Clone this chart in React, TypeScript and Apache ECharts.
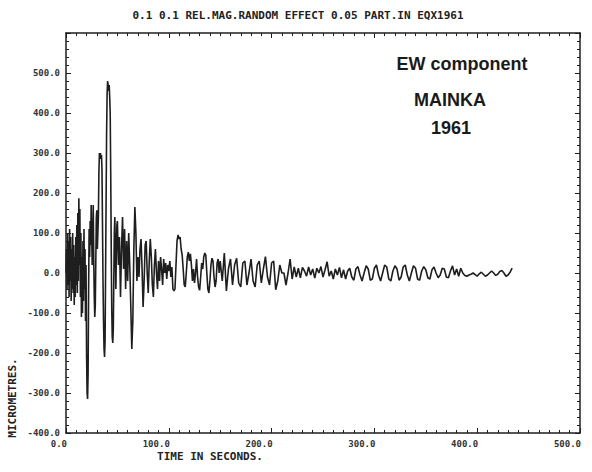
import { useEffect, useRef } from "react";
import * as echarts from "echarts";

// Plot texts
const titleText = "0.1 0.1 REL.MAG.RANDOM EFFECT 0.05 PART.IN EQX1961";
const xTitle = "TIME IN SECONDS.";
const yTitle = "MICROMETRES.";
const annotationLines = ["EW component", "MAINKA", "1961"];

// Axis ranges (seconds, micrometres); the top of the frame carries no label
const xMin = 0;
const xMax = 500;
const xStep = 100;
const yMin = -400;
const yMax = 600;
const yStep = 100;
const yLastLabelled = 500;

// Ground displacement, digitised in three runs with different sample spacing.
// Run A: 0 – 49.5 s, one sample every 0.5 s
const runAStart = 0;
const runAStep = 0.5;
const runA = [
  0, 60, -40, 100, -30, 80, -60, 110, -20, 90,
  -70, 60, -40, 100, -50, 70, -80, 40, -60, 90,
  -30, 120, -50, 150, -20, 187, 20, 160, -60, 100,
  -110, 40, -100, 80, -70, 110, -40, 60, -120, 20,
  -200, -300, -315, -250, -40, 110, 40, 130, 70, 170,
  90, 20, 60, 170, 30, -60, -110, -80, 30, 140,
  157, 60, 100, 140, 250, 300, 290, 300, 285, 295,
  260, 120, -20, -120, -190, -210, -170, 0, 180, 350,
  450, 480, 470, 455, 470, 440, 400, 250, 60, -90,
  -160, -175, -140, -20, 100, 140, 60, -40, 50, 120,
];

// Run B: 50 – 149 s, one sample every second
const runBStart = 50;
const runBStep = 1;
const runB = [
  130, 20, 90, -60, 60, 140, 10, 110, -40, 80,
  -20, 100, 20, -80, -190, -120, 60, 165, 100, -20,
  40, -10, 60, 85, 10, -85, -20, 70, 80, 0,
  -50, 30, 85, 40, -30, -60, 20, 60, 0, -40,
  30, -20, 40, 10, -30, 35, 0, 25, -15, 20,
  5, 30, -10, 15, -40, -45, -40, 20, 80, 95,
  85, 90, 60, 45, 10, -30, -35, 0, 40, 52,
  30, 48, 20, -20, 10, -25, 0, 35, -10, -35,
  -43, -10, 25, 10, 40, 50, 45, 0, -40, -50,
  -20, 20, 37, 30, -10, -35, -20, 25, 35, 0,
];

// Run C: 150 – 434 s, one sample every 2 s
const runCStart = 150;
const runCStep = 2;
const runC = [
  30, -20, 50, -45, 10, 35, -30, 20, 37, -25,
  -35, 25, 30, -30, 0, 35, -20, -35, 20, 30,
  -25, 10, 41, -10, -30, 25, 30, -42, -20, 20,
  0, 0, -30, 0, 35, -15, 15, -10, 12, -12,
  14, 5, -8, 15, -5, 10, -13, 12, 0, 16,
  -10, 8, 28, -8, 5, -15, 10, -5, 14, -12,
  8, -15, 5, 12, -10, -18, 10, 16, -5, -20,
  0, 18, 10, -18, -15, 12, 20, -5, -20, 0,
  20, 15, -15, -20, 5, 18, 10, -18, -10, 15,
  20, -5, -20, 0, 18, 12, -15, -18, 5, 16,
  8, -12, -15, 8, 15, 0, -12, -5, 12, 10,
  -10, -12, 5, 18, -5, 10, -8, 12, 0, -6,
  -8, -5, -3, 0, -4, -8, -2, 2, -3, -8,
  -5, 0, 5, 0, -6, -3, 4, 6, 0, -8,
  -5, 2, 12,
];

const toPairs = (start: number, step: number, values: number[]) =>
  values.map((v, i) => [start + i * step, v]);

const ink = "#1e1e1e";
const labelFont = "DejaVu Sans Mono";

export default function App() {
  const ref = useRef<HTMLDivElement>(null);

  useEffect(() => {
    if (!ref.current) return;
    const chart = echarts.init(ref.current, undefined, { renderer: "svg" });

    const trace = [
      ...toPairs(runAStart, runAStep, runA),
      ...toPairs(runBStart, runBStep, runB),
      ...toPairs(runCStart, runCStep, runC),
    ];

    const tickLabel = {
      fontFamily: labelFont,
      fontSize: 9,
      fontWeight: "bold" as const,
      color: "#333",
    };

    const baseX = {
      type: "value" as const,
      min: xMin,
      max: xMax,
      interval: xStep,
      axisLine: { show: true, onZero: false, lineStyle: { color: ink, width: 1.5 } },
      axisTick: { show: true, inside: true, length: 5, lineStyle: { color: ink, width: 1 } },
      minorTick: { show: true, splitNumber: 10, length: 3, lineStyle: { color: ink, width: 1 } },
      splitLine: { show: false },
    };
    const baseY = {
      type: "value" as const,
      min: yMin,
      max: yMax,
      interval: yStep,
      axisLine: { show: true, onZero: false, lineStyle: { color: ink, width: 1.5 } },
      axisTick: { show: true, inside: true, length: 5, lineStyle: { color: ink, width: 1 } },
      minorTick: { show: true, splitNumber: 5, length: 3, lineStyle: { color: ink, width: 1 } },
      splitLine: { show: false },
    };

    chart.setOption({
      animation: false,
      backgroundColor: "#ffffff",
      grid: { left: 66, right: 12, top: 33, bottom: 39, containLabel: false },
      xAxis: [
        {
          ...baseX,
          position: "bottom",
          axisLabel: {
            ...tickLabel,
            margin: 6,
            align: "right",
            padding: [0, -1, 0, 0],
            formatter: (v: number) => v.toFixed(1),
          },
        },
        { ...baseX, position: "top", axisLabel: { show: false } },
      ],
      yAxis: [
        {
          ...baseY,
          position: "left",
          axisLabel: {
            ...tickLabel,
            margin: 6,
            formatter: (v: number) => (v > yLastLabelled ? "" : v.toFixed(1)),
          },
        },
        { ...baseY, position: "right", axisLabel: { show: false } },
      ],
      series: [
        {
          type: "line",
          data: trace,
          showSymbol: false,
          symbol: "none",
          lineStyle: { color: ink, width: 1.6 },
          silent: true,
        },
      ],
      graphic: [
        {
          type: "text",
          x: 298,
          y: 15,
          style: {
            text: titleText,
            align: "center",
            verticalAlign: "middle",
            fontFamily: labelFont,
            fontSize: 11,
            fontWeight: "bold",
            fill: "#222",
          },
        },
        {
          type: "text",
          x: 210,
          y: 456,
          style: {
            text: xTitle,
            align: "center",
            verticalAlign: "middle",
            fontFamily: labelFont,
            fontSize: 11,
            fontWeight: "bold",
            fill: "#222",
          },
        },
        {
          type: "text",
          x: 12,
          y: 398,
          rotation: Math.PI / 2,
          style: {
            text: yTitle,
            align: "center",
            verticalAlign: "middle",
            fontFamily: labelFont,
            fontSize: 11,
            fontWeight: "bold",
            fill: "#222",
          },
        },
        {
          type: "text",
          x: 462,
          y: 64,
          style: {
            text: annotationLines[0],
            align: "center",
            verticalAlign: "middle",
            fontFamily: "Liberation Sans",
            fontSize: 18,
            fontWeight: "bold",
            fill: "#1a1a1a",
          },
        },
        {
          type: "text",
          x: 450,
          y: 100,
          style: {
            text: annotationLines[1],
            align: "center",
            verticalAlign: "middle",
            fontFamily: "Liberation Sans",
            fontSize: 18,
            fontWeight: "bold",
            fill: "#1a1a1a",
          },
        },
        {
          type: "text",
          x: 451,
          y: 128,
          style: {
            text: annotationLines[2],
            align: "center",
            verticalAlign: "middle",
            fontFamily: "Liberation Sans",
            fontSize: 18,
            fontWeight: "bold",
            fill: "#1a1a1a",
          },
        },
      ],
    });

    return () => chart.dispose();
  }, []);

  return (
    <div
      ref={ref}
      style={{ position: "fixed", left: 0, top: 0, width: 592, height: 472, background: "#fff" }}
    />
  );
}
